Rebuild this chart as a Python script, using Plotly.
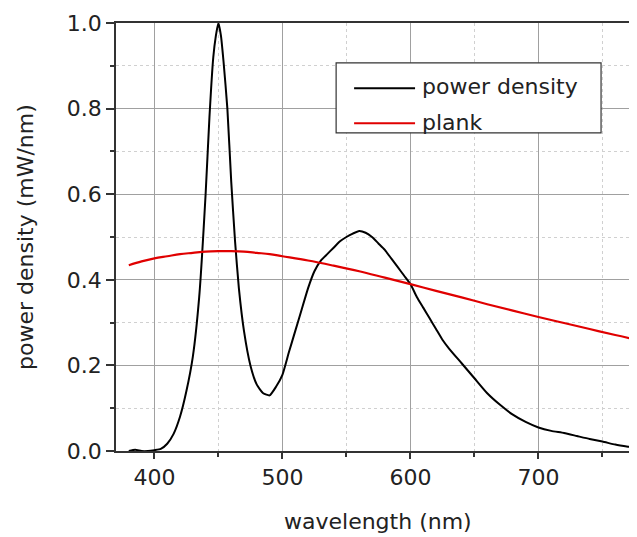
import plotly.graph_objects as go

# ---- data ----
wl_power = [380, 385, 390, 395, 400, 405, 410, 415, 420, 425, 430, 435, 440, 443, 446, 448, 450,
            452, 454, 457, 460, 463, 466, 470, 475, 480, 485, 490, 495, 500, 505, 510, 515, 520,
            525, 530, 535, 540, 545, 550, 555, 560, 565, 570, 575, 580, 585, 590, 595, 600, 605,
            610, 615, 620, 625, 630, 640, 650, 660, 670, 680, 690, 700, 710, 720, 730, 740, 750,
            760, 770, 777]
power_density = [0.0, 0.003, 0.0, 0.0, 0.002, 0.005, 0.017, 0.04, 0.08, 0.14, 0.22, 0.36, 0.6,
                 0.78, 0.92, 0.97, 1.0, 0.97, 0.91, 0.80, 0.63, 0.49, 0.38, 0.28, 0.20, 0.155,
                 0.135, 0.13, 0.15, 0.178, 0.23, 0.28, 0.33, 0.38, 0.42, 0.445, 0.46, 0.475, 0.49,
                 0.50, 0.508, 0.514, 0.51, 0.50, 0.485, 0.47, 0.45, 0.43, 0.41, 0.39, 0.36, 0.335,
                 0.31, 0.285, 0.26, 0.24, 0.205, 0.17, 0.135, 0.108, 0.085, 0.068, 0.055, 0.047,
                 0.042, 0.035, 0.028, 0.022, 0.015, 0.01, 0.007]

wl_plank = [380, 390, 400, 410, 420, 430, 440, 450, 460, 470, 480, 490, 500, 520, 540, 560, 580,
            600, 620, 640, 660, 680, 700, 720, 740, 760, 777]
plank = [0.434, 0.443, 0.45, 0.455, 0.46, 0.463, 0.466, 0.467, 0.467, 0.466, 0.463, 0.46, 0.455,
         0.445, 0.433, 0.42, 0.405, 0.39, 0.374, 0.359, 0.343, 0.328, 0.313, 0.299, 0.285,
         0.271, 0.26]

names = ["power density", "plank"]
colors = ["#000000", "#e00000"]

x_ticks = [400, 500, 600, 700]
y_ticks = [0.0, 0.2, 0.4, 0.6, 0.8, 1.0]
y_tick_text = ["0.0", "0.2", "0.4", "0.6", "0.8", "1.0"]
x_title = "wavelength (nm)"
y_title = "power density (mW/nm)"

FONT = "DejaVu Sans, Liberation Sans, Arial, sans-serif"
TXT = "#222222"
FS = 22

fig = go.Figure()
fig.add_trace(go.Scatter(x=wl_power, y=power_density, mode="lines", name=names[0],
                         line=dict(color=colors[0], width=2, shape="spline", smoothing=0.5),
                         showlegend=False))
fig.add_trace(go.Scatter(x=wl_plank, y=plank, mode="lines", name=names[1],
                         line=dict(color=colors[1], width=2.2, shape="spline"),
                         showlegend=False))

# ---- manual legend box (matches the longer sample lines of the reference) ----
fig.add_shape(type="rect", xref="paper", yref="paper", x0=0.4225, x1=0.931, y0=0.7435, y1=0.907,
              line=dict(color="#333333", width=1.2), fillcolor="white", layer="above")
leg_rows = [0.8475, 0.7655]
for nm, col, yy in zip(names, colors, leg_rows):
    fig.add_shape(type="line", xref="paper", yref="paper", x0=0.457, x1=0.574, y0=yy, y1=yy,
                  line=dict(color=col, width=2), layer="above")
    fig.add_annotation(xref="paper", yref="paper", x=0.584, y=yy + 0.003, text=nm,
                       showarrow=False, xanchor="left", yanchor="middle",
                       font=dict(family=FONT, size=FS, color=TXT))

# ---- axis titles as annotations for exact placement ----
fig.add_annotation(xref="paper", yref="paper", x=0.502, y=0, yshift=-70, text=x_title,
                   showarrow=False, xanchor="center", yanchor="middle",
                   font=dict(family=FONT, size=FS, color=TXT))
fig.add_annotation(xref="paper", yref="paper", x=0, y=0.5, xshift=-91, text=y_title,
                   textangle=-90, showarrow=False, xanchor="center", yanchor="middle",
                   font=dict(family=FONT, size=FS, color=TXT))

axis_common = dict(
    showline=True, linecolor="#333333", linewidth=1.5,
    showgrid=True, gridcolor="#a0a0a0", gridwidth=1.2,
    ticks="outside", tickcolor="#333333", tickwidth=1.5,
    tickfont=dict(family=FONT, size=FS, color=TXT),
    zeroline=False, automargin=False,
)

fig.update_xaxes(range=[370, 777], tickvals=x_ticks, ticklen=6, mirror=True,
                 minor=dict(dtick=50, tick0=0, showgrid=True, gridcolor="#d0d0d0",
                            griddash="dot", gridwidth=1, ticks="outside", ticklen=4,
                            tickcolor="#333333"),
                 **axis_common)
fig.update_yaxes(range=[0, 1.0], tickvals=y_ticks, ticktext=y_tick_text, ticklen=8,
                 minor=dict(dtick=0.1, tick0=0, showgrid=True, gridcolor="#d0d0d0",
                            griddash="dot", gridwidth=1, ticks="outside", ticklen=4,
                            tickcolor="#333333"),
                 **axis_common)

# the page body adds an 8px offset; size the figure so the plot lands where the reference has it
fig.update_layout(
    width=629, height=529,
    margin=dict(l=108, r=0, t=15, b=86),
    plot_bgcolor="white", paper_bgcolor="white",
    font=dict(family=FONT, color=TXT),
)

fig.write_html("out.html")
